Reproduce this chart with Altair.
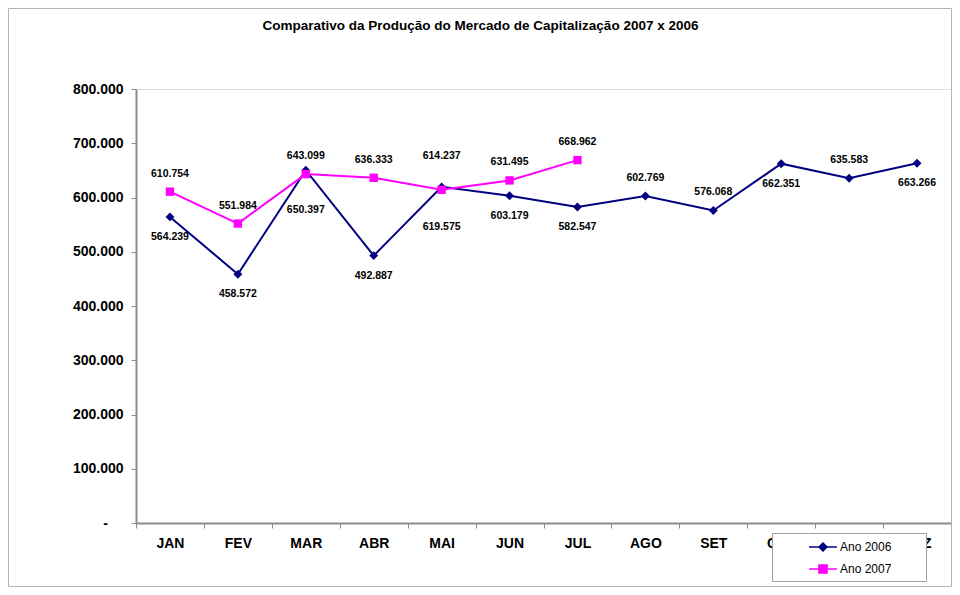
import altair as alt
import pandas as pd

meses = ["JAN", "FEV", "MAR", "ABR", "MAI", "JUN", "JUL", "AGO", "SET", "OUT", "NOV", "DEZ"]
ano_2006 = [564239, 458572, 650397, 492887, 619575, 603179, 582547, 602769, 576068, 662351, 635583, 663266]
ano_2007 = [610754, 551984, 643099, 636333, 614237, 631495, 668962]
series = ["Ano 2006", "Ano 2007"]
y_ticks = [0, 100000, 200000, 300000, 400000, 500000, 600000, 700000, 800000]
# side of each value label (acima = above, abaixo = below)
lado_2006 = ["abaixo", "abaixo", "muito_abaixo", "abaixo", "muito_abaixo", "abaixo",
             "abaixo", "acima", "acima", "abaixo", "acima", "abaixo"]
lado_2007 = ["acima", "acima", "acima", "acima", "muito_acima", "acima", "acima"]

rows = []
for m, v, s in zip(meses, ano_2006, lado_2006):
    rows.append({"mes": m, "valor": v, "serie": series[0], "lado": s})
for m, v, s in zip(meses, ano_2007, lado_2007):
    rows.append({"mes": m, "valor": v, "serie": series[1], "lado": s})
df = pd.DataFrame(rows)

FONT = "Liberation Sans"
GRAY = "#8c8c8c"
W, H = 815, 434
COLORS = ["#000080", "#FF00FF"]
NB = "\u00a0"
ZW = "\u200b"

path_2006 = "M-1.55,0H1.55M0,-0.45L0.45,0L0,0.45L-0.45,0Z"
path_2007 = "M-1.55,0H1.55M-0.45,-0.45H0.45V0.45H-0.45Z"

legend = alt.Legend(
    title=None, orient="none", legendX=636, legendY=444,
    fillColor="white", strokeColor="#a0a0a0", padding=4,
    symbolSize=324, symbolOffset=37, labelOffset=7, rowPadding=4,
    labelFont=FONT, labelFontSize=12, labelColor="black",
    labelExpr=f"datum.label + '{NB * 9}{ZW}'",
    symbolStrokeWidth=1.5, symbolOpacity=1, zindex=5,
)

x_enc = alt.X("mes:N", sort=meses,
              scale=alt.Scale(type="band", domain=meses, paddingInner=0, paddingOuter=0),
              axis=alt.Axis(title=None, labelAngle=0, tickBand="extent", grid=False,
                            domainColor=GRAY, domainWidth=2, tickColor=GRAY, tickSize=5,
                            labelFont=FONT, labelFontSize=14, labelFontWeight="bold",
                            labelColor="black", labelPadding=8))
y_enc = alt.Y("valor:Q",
              scale=alt.Scale(domain=[0, 800000], nice=False, zero=True),
              axis=alt.Axis(title=None, values=y_ticks, grid=False,
                            labelExpr=f"datum.value == 0 ? '-{NB * 4}{ZW}' : replace(format(datum.value, ',d'), ',', '.')",
                            domainColor=GRAY, domainWidth=2, tickColor=GRAY, tickSize=5,
                            labelFont=FONT, labelFontSize=14, labelFontWeight="bold",
                            labelColor="black", labelPadding=8))

color_enc = alt.Color("serie:N", scale=alt.Scale(domain=series, range=COLORS), legend=legend)
stroke_enc = alt.Stroke("serie:N", scale=alt.Scale(domain=series, range=COLORS), legend=legend)
shape_enc = alt.Shape("serie:N", scale=alt.Scale(domain=series, range=[path_2006, path_2007]), legend=legend)

base = alt.Chart(df).encode(x=x_enc, y=y_enc)

lines = base.mark_line(strokeWidth=2).encode(stroke=stroke_enc)

pts_2006 = base.transform_filter(alt.datum.serie == series[0]).mark_point(
    shape="diamond", filled=True, opacity=1, size=80, strokeWidth=0
).encode(color=color_enc)
pts_2007 = base.transform_filter(alt.datum.serie == series[1]).mark_point(
    shape="square", filled=True, opacity=1, size=70, strokeWidth=0
).encode(color=color_enc)

# empty layer that only carries the legend (line + marker symbols)
legend_layer = base.transform_filter("false").mark_point(filled=True).encode(
    color=color_enc, stroke=stroke_enc, shape=shape_enc,
)

offsets = {"acima": -18, "abaixo": 20, "muito_acima": -34, "muito_abaixo": 40}
texts = []
for lado, dy in offsets.items():
    texts.append(
        base.transform_filter(alt.datum.lado == lado)
        .transform_calculate(rotulo="replace(format(datum.valor, ',d'), ',', '.')")
        .mark_text(font=FONT, fontSize=10.5, fontWeight="bold", color="black",
                   baseline="middle", align="center", dy=dy)
        .encode(text="rotulo:N")
    )

frame = alt.Chart(pd.DataFrame({"a": [0]})).mark_rect(
    fill=None, stroke="#b4b4b4", strokeWidth=1, clip=False
).encode(x=alt.value(-127.5), x2=alt.value(W + 0.5), y=alt.value(-80.5), y2=alt.value(H + 63.5))

chart = alt.layer(frame, lines, pts_2006, pts_2007, legend_layer, *texts).properties(
    width=W, height=H,
    autosize=alt.AutoSizeParams(type="none"),
    padding={"left": 128, "top": 81, "right": 1, "bottom": 64},
    title=alt.TitleParams(
        "Comparativo da Produção do Mercado de Capitalização 2007 x 2006",
        font=FONT, fontSize=13.5, fontWeight="bold", color="black",
        anchor="middle", frame="group", dx=-63, offset=-38, baseline="bottom",
    ),
).configure_view(stroke=GRAY, strokeWidth=1.5).configure(background="white")

chart.save("out.html", embed_options={"renderer": "svg", "actions": False})
